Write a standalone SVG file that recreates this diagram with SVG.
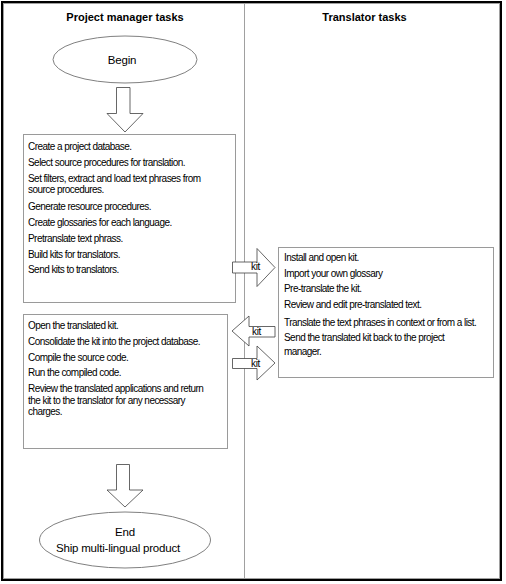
<svg xmlns="http://www.w3.org/2000/svg" width="506" height="584" viewBox="0 0 506 584">
<style>
.title{font-family:"Liberation Sans",Arial,sans-serif;font-size:11px;font-weight:bold;fill:#000;text-anchor:middle}
.body{font-family:"Liberation Sans",Arial,sans-serif;font-size:10px;letter-spacing:-0.55px;fill:#000}
.oval{font-family:"Liberation Sans",Arial,sans-serif;font-size:11.5px;letter-spacing:-0.2px;fill:#000;text-anchor:middle}
.kit{font-family:"Liberation Sans",Arial,sans-serif;font-size:10px;letter-spacing:-0.3px;fill:#000}
.box{fill:#fff;stroke:#9a9a9a;stroke-width:1}
.ell{fill:#fff;stroke:#808080;stroke-width:1}
.arrow{fill:#fff;stroke:#404040;stroke-width:0.8;stroke-linejoin:miter}
</style>
<rect x="0" y="0" width="506" height="584" fill="#fff"/>
<g id="frame">
<rect x="2" y="2" width="499" height="578" fill="none" stroke="#000" stroke-width="2"/>
<rect x="3.5" y="3.5" width="496" height="575" fill="none" stroke="#a0a0a0" stroke-width="1"/>
<line x1="244.5" y1="3" x2="244.5" y2="579" stroke="#a0a0a0" stroke-width="1"/>
<text class="title" x="125" y="21">Project manager tasks</text>
<text class="title" x="364.5" y="21">Translator tasks</text>
</g>
<g id="begin">
<ellipse class="ell" cx="125" cy="59.5" rx="72" ry="23.5"/>
<text class="oval" x="122" y="63.5">Begin</text>
</g>
<g id="pm-tasks-1">
<rect class="box" x="23.5" y="134.5" width="212" height="168"/>
<text class="body" x="28" y="149.5">Create a project database.</text>
<text class="body" x="28" y="165.5">Select source procedures for translation.</text>
<text class="body" x="28" y="181.5">Set filters, extract and load text phrases from</text>
<text class="body" x="28" y="193">source procedures.</text>
<text class="body" x="28" y="209.5">Generate resource procedures.</text>
<text class="body" x="28" y="226">Create glossaries for each language.</text>
<text class="body" x="28" y="241.5">Pretranslate text phrass.</text>
<text class="body" x="28" y="257.5">Build kits for translators.</text>
<text class="body" x="28" y="273">Send kits to translators.</text>
</g>
<g id="translator-tasks">
<rect class="box" x="278.5" y="247.5" width="215" height="130"/>
<text class="body" x="284" y="260.5">Install and open kit.</text>
<text class="body" x="284" y="276.5">Import your own glossary</text>
<text class="body" x="284" y="292">Pre-translate the kit.</text>
<text class="body" x="284" y="307.5">Review and edit pre-translated text.</text>
<text class="body" x="284" y="325.5">Translate the text phrases in context or from a list.</text>
<text class="body" x="284" y="341">Send the translated kit back to the project</text>
<text class="body" x="284" y="355">manager.</text>
</g>
<g id="pm-tasks-2">
<rect class="box" x="23.5" y="314.5" width="204" height="134"/>
<text class="body" x="28" y="328.5">Open the translated kit.</text>
<text class="body" x="28" y="344.5">Consolidate the kit into the project database.</text>
<text class="body" x="28" y="360.5">Compile the source code.</text>
<text class="body" x="28" y="376">Run the compiled code.</text>
<text class="body" x="28" y="392">Review the translated applications and return</text>
<text class="body" x="28" y="403.5">the kit to the translator for any necessary</text>
<text class="body" x="28" y="415">charges.</text>
</g>
<g id="end">
<ellipse class="ell" cx="125" cy="540" rx="85.5" ry="28"/>
<text class="oval" x="125" y="536">End</text>
<text class="oval" x="118" y="552">Ship multi-lingual product</text>
</g>
<g id="connectors">
<path class="arrow" d="M116.5,87.5 H130 V113.5 H143 L125,132 L107,113.5 H116.5 Z"/>
<path class="arrow" d="M116.5,464.5 H129.5 V490 H143 L125,507 L107,490 H116.5 Z"/>
<path class="arrow" d="M232.5,262 H257 V248.5 L275,267.5 L257,286.5 V273 H232.5 Z"/>
<text class="kit" x="251" y="270">kit</text>
<path class="arrow" d="M275,326.5 H249 V316 L232,331 L249,346 V337 H275 Z"/>
<text class="kit" x="252" y="335">kit</text>
<path class="arrow" d="M232.5,358.5 H257 V346 L275,363 L257,380 V368.5 H232.5 Z"/>
<text class="kit" x="251" y="366.5">kit</text>
</g>
</svg>
